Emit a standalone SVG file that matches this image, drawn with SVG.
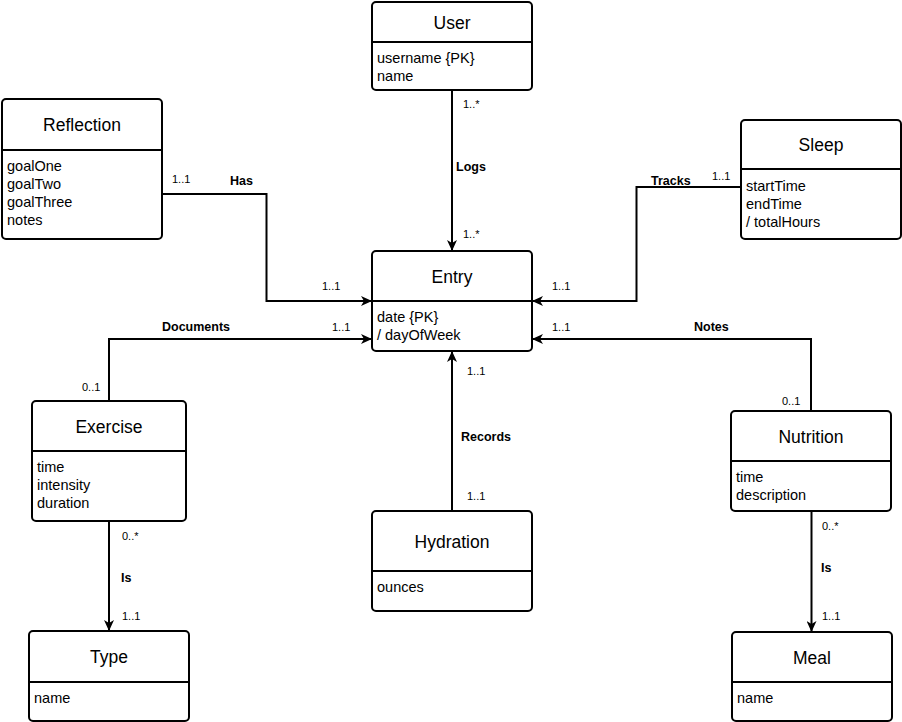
<svg xmlns="http://www.w3.org/2000/svg" width="902" height="722" viewBox="0 0 902 722">
<defs>
<marker id="arrow" markerUnits="userSpaceOnUse" markerWidth="12" markerHeight="10" refX="11" refY="5" orient="auto">
<path d="M0,0 L11,5 L0,10 L3,5 Z" fill="#000"/>
</marker>
</defs>
<style>
.box{fill:#fff;stroke:#000;stroke-width:2}
.sep{stroke:#000;stroke-width:2}
.title{font-family:"Liberation Sans",Arial,sans-serif;font-size:17.5px;text-anchor:middle;fill:#000}
.attr{font-family:"Liberation Sans",Arial,sans-serif;font-size:14.5px;fill:#000}
.mult{font-family:"Liberation Sans",Arial,sans-serif;font-size:11px;fill:#000}
.lbl{font-family:"Liberation Sans",Arial,sans-serif;font-size:12.5px;font-weight:bold;fill:#000}
.edge{fill:none;stroke:#000;stroke-width:2;marker-end:url(#arrow)}
</style>
<rect width="902" height="722" fill="#fff"/>
<g id="connectors">
<path class="edge" d="M162,194 H266.5 V301 H372"/>
<path class="edge" d="M109,401 V339 H372"/>
<path class="edge" d="M741,187 H636.5 V301 H532"/>
<path class="edge" d="M811,411 V339 H532"/>
<path class="edge" d="M452,90 V251"/>
<path class="edge" d="M452,511 V351"/>
<path class="edge" d="M109,521 V631"/>
<path class="edge" d="M811.5,511 V632"/>
<text class="mult" x="463" y="108">1..*</text>
<text class="lbl" x="456" y="171">Logs</text>
<text class="mult" x="463" y="238">1..*</text>
<text class="mult" x="172" y="183">1..1</text>
<text class="lbl" x="230" y="184.5">Has</text>
<text class="mult" x="322" y="290">1..1</text>
<text class="lbl" x="162" y="331">Documents</text>
<text class="mult" x="332" y="330.5">1..1</text>
<text class="mult" x="82" y="390.5">0..1</text>
<text class="lbl" x="651" y="184.5">Tracks</text>
<text class="mult" x="712" y="180">1..1</text>
<text class="mult" x="552" y="290">1..1</text>
<text class="mult" x="552" y="330.5">1..1</text>
<text class="lbl" x="694" y="331">Notes</text>
<text class="mult" x="782" y="404.5">0..1</text>
<text class="mult" x="467" y="374.5">1..1</text>
<text class="lbl" x="461" y="441">Records</text>
<text class="mult" x="467" y="500">1..1</text>
<text class="mult" x="122" y="540">0..*</text>
<text class="lbl" x="121" y="581.5">Is</text>
<text class="mult" x="122" y="620">1..1</text>
<text class="mult" x="822" y="530">0..*</text>
<text class="lbl" x="821" y="571.5">Is</text>
<text class="mult" x="822" y="620">1..1</text>
</g>
<g id="user">
<rect class="box" x="372" y="2" width="160" height="88" rx="4"/>
<line class="sep" x1="372" y1="42" x2="532" y2="42"/>
<text class="title" x="452" y="28.5">User</text>
<text class="attr" x="377" y="62.5">username {PK}</text>
<text class="attr" x="377" y="80.5">name</text>
</g>
<g id="reflection">
<rect class="box" x="2" y="99" width="160" height="140" rx="4"/>
<line class="sep" x1="2" y1="150" x2="162" y2="150"/>
<text class="title" x="82" y="131">Reflection</text>
<text class="attr" x="7" y="170.5">goalOne</text>
<text class="attr" x="7" y="188.5">goalTwo</text>
<text class="attr" x="7" y="206.5">goalThree</text>
<text class="attr" x="7" y="224.5">notes</text>
</g>
<g id="entry">
<rect class="box" x="372" y="251" width="160" height="100" rx="4"/>
<line class="sep" x1="372" y1="301" x2="532" y2="301"/>
<text class="title" x="452" y="282.5">Entry</text>
<text class="attr" x="377" y="322">date {PK}</text>
<text class="attr" x="377" y="340">/ dayOfWeek</text>
</g>
<g id="sleep">
<rect class="box" x="741" y="120" width="160" height="119" rx="4"/>
<line class="sep" x1="741" y1="169" x2="901" y2="169"/>
<text class="title" x="821" y="151">Sleep</text>
<text class="attr" x="746" y="190.5">startTime</text>
<text class="attr" x="746" y="208.5">endTime</text>
<text class="attr" x="746" y="226.5">/ totalHours</text>
</g>
<g id="exercise">
<rect class="box" x="32" y="401" width="154" height="120" rx="4"/>
<line class="sep" x1="32" y1="451" x2="186" y2="451"/>
<text class="title" x="109" y="432.5">Exercise</text>
<text class="attr" x="37" y="471.5">time</text>
<text class="attr" x="37" y="489.5">intensity</text>
<text class="attr" x="37" y="507.5">duration</text>
</g>
<g id="hydration">
<rect class="box" x="372" y="511" width="160" height="100" rx="4"/>
<line class="sep" x1="372" y1="571" x2="532" y2="571"/>
<text class="title" x="452" y="547.5">Hydration</text>
<text class="attr" x="377" y="591.5">ounces</text>
</g>
<g id="nutrition">
<rect class="box" x="731" y="411" width="160" height="100" rx="4"/>
<line class="sep" x1="731" y1="461" x2="891" y2="461"/>
<text class="title" x="811" y="442.5">Nutrition</text>
<text class="attr" x="736" y="481.5">time</text>
<text class="attr" x="736" y="499.5">description</text>
</g>
<g id="type">
<rect class="box" x="29" y="631" width="160" height="90" rx="4"/>
<line class="sep" x1="29" y1="682" x2="189" y2="682"/>
<text class="title" x="109" y="663">Type</text>
<text class="attr" x="34" y="702.5">name</text>
</g>
<g id="meal">
<rect class="box" x="732" y="632" width="160" height="89" rx="4"/>
<line class="sep" x1="732" y1="682" x2="892" y2="682"/>
<text class="title" x="812" y="663.5">Meal</text>
<text class="attr" x="737" y="702.5">name</text>
</g>
</svg>
